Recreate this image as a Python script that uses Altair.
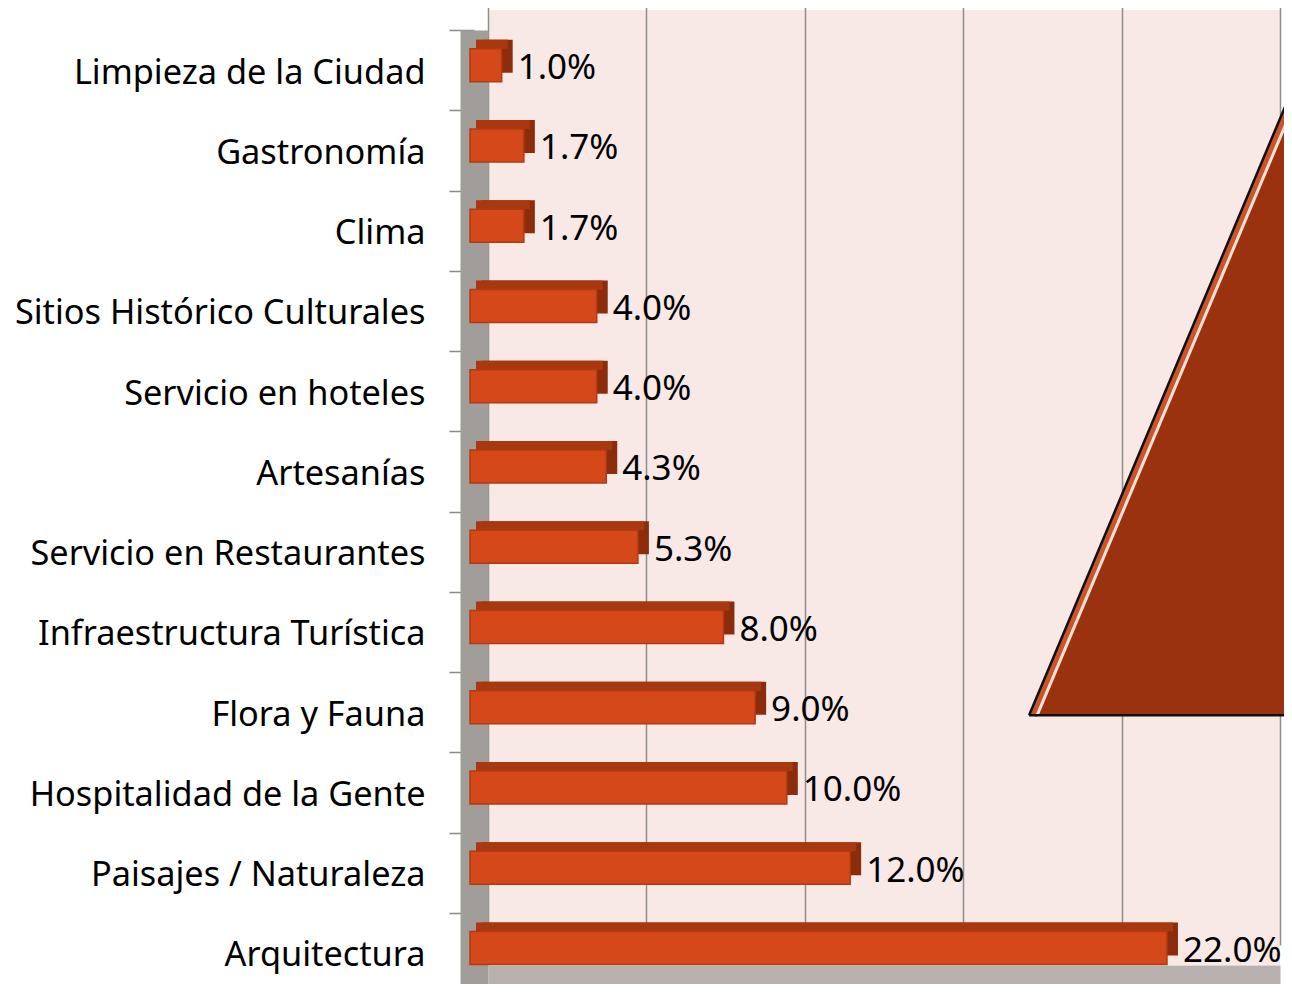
import altair as alt
import pandas as pd

categories = [
    "Limpieza de la Ciudad", "Gastronomía", "Clima", "Sitios Histórico Culturales",
    "Servicio en hoteles", "Artesanías", "Servicio en Restaurantes",
    "Infraestructura Turística", "Flora y Fauna", "Hospitalidad de la Gente",
    "Paisajes / Naturaleza", "Arquitectura",
]
values = [1.0, 1.7, 1.7, 4.0, 4.0, 4.3, 5.3, 8.0, 9.0, 10.0, 12.0, 22.0]
grid_values = [0, 5, 10, 15, 20, 25]

# decorative triangle (x in % units, y in row units)
tri_x = [17.08, 25.38]
tri_top = [8.54, 0.75]
tri_bottom = [8.54, 8.54]

df = pd.DataFrame({"categoria": categories, "valor": values})
tri = pd.DataFrame({"x": tri_x, "top": tri_top, "bottom": tri_bottom})

FONT = "Noto Sans"
FSIZE = 35

xscale = alt.Scale(domain=[0, 25], nice=False, zero=True)
yscale = alt.Scale(domain=categories, range=[20, 983], paddingInner=0, paddingOuter=0)

x_axis = alt.Axis(
    values=grid_values, grid=True, gridColor="#8E8E8E", gridWidth=1.5,
    labels=False, ticks=False, title=None,
    domainColor="#B9B1AF", domainWidth=27, offset=13.5,
)
y_axis = alt.Axis(
    title=None, tickBand="extent", tickColor="#8A8A8A", tickWidth=1.5, tickSize=25,
    domainColor="#A19D9B", domainWidth=28, offset=14,
    labelPadding=24, labelFontSize=34.3, labelFont=FONT, labelColor="#000000",
    labelLimit=0, labelOffset=3, grid=False,
)

base = alt.Chart(df).encode(
    x=alt.X("valor:Q", scale=xscale, axis=x_axis),
    y=alt.Y("categoria:N", sort=categories, scale=yscale, axis=y_axis),
)

side = base.mark_bar(height=33, xOffset=-7, x2Offset=-7, yOffset=-14, y2Offset=-14,
                     color="#8B2D0D")
top = base.mark_bar(height=9, xOffset=-12, x2Offset=-12, yOffset=-26, y2Offset=-26,
                    color="#A8380F")
front = base.mark_bar(height=33, xOffset=-18, x2Offset=-18, yOffset=-5, y2Offset=-5,
                      color="#D4481A", stroke="#B33A10", strokeWidth=1.5)
labels = base.transform_calculate(
    etiqueta="format(datum.valor, '.1f') + '%'"
).mark_text(align="left", baseline="middle", dx=-2, dy=-2, fontSize=FSIZE, font=FONT,
            color="#000000").encode(text="etiqueta:N")

bars = alt.layer(side, top, front, labels)

tri_yscale = alt.Scale(domain=[0, 12], range=[20, 983], nice=False, zero=False)
tri_base = alt.Chart(tri).encode(
    x=alt.X("x:Q", scale=xscale, axis=x_axis),
    y=alt.Y("top:Q", scale=tri_yscale, axis=None),
)
tri_area = tri_base.mark_area(orient="vertical", color="#9A3210", clip=False).encode(
    y2="bottom:Q")
tri_band = tri_base.mark_line(color="#C8552C", strokeWidth=8, xOffset=4, clip=False)
tri_edge = tri_base.mark_line(color="#111111", strokeWidth=2.5, clip=False)
tri_glow = tri_base.mark_line(color="#FBE1D3", strokeWidth=3, xOffset=8, clip=False)
tri_floor = alt.Chart(tri).mark_line(color="#111111", strokeWidth=2.5, clip=False).encode(
    x=alt.X("x:Q", scale=xscale, axis=x_axis),
    y=alt.Y("bottom:Q", scale=tri_yscale, axis=None),
)
deco = alt.layer(tri_area, tri_band, tri_edge, tri_glow, tri_floor)

chart = alt.layer(bars, deco).resolve_scale(y="independent").properties(
    width=792, height=955,
    autosize=alt.AutoSizeParams(type="none"),
    padding={"left": 480, "top": 2, "right": 4, "bottom": 19},
).configure_view(fill="#F8E9E7", strokeWidth=0)

chart.save("out.html", embed_options={"renderer": "svg", "actions": False})
